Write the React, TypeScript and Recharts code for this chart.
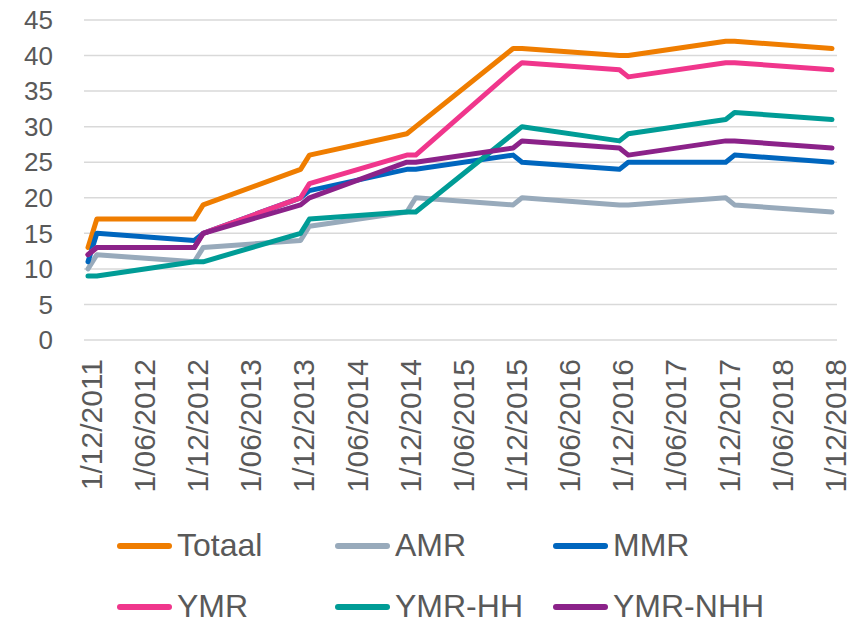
import React from "react";
import { LineChart, Line, XAxis, YAxis, CartesianGrid, Legend } from "recharts";

const dates = ["2011-12", "2012-01", "2012-12", "2013-01", "2013-12", "2014-01", "2014-12", "2015-01", "2015-12", "2016-01", "2016-12", "2017-01", "2017-12", "2018-01", "2018-12"];
const totaal = [13, 17, 17, 19, 24, 26, 29, 30, 41, 41, 40, 40, 42, 42, 41];
const amr = [10, 12, 11, 13, 14, 16, 18, 20, 19, 20, 19, 19, 20, 19, 18];
const mmr = [11, 15, 14, 15, 20, 21, 24, 24, 26, 25, 24, 25, 25, 26, 25];
const ymr = [12, 13, 13, 15, 20, 22, 26, 26, 38, 39, 38, 37, 39, 39, 38];
const ymrHH = [9, 9, 11, 11, 15, 17, 18, 18, 29, 30, 28, 29, 31, 32, 31];
const ymrNHH = [12, 13, 13, 15, 19, 20, 25, 25, 27, 28, 27, 26, 28, 28, 27];
const tickDates = ["2011-12", "2012-06", "2012-12", "2013-06", "2013-12", "2014-06", "2014-12", "2015-06", "2015-12", "2016-06", "2016-12", "2017-06", "2017-12", "2018-06", "2018-12"];
const yTicks = [0, 5, 10, 15, 20, 25, 30, 35, 40, 45];

const series = [
  { key: "totaal", name: "Totaal", color: "#EF7D00", values: totaal },
  { key: "amr", name: "AMR", color: "#98AABB", values: amr },
  { key: "mmr", name: "MMR", color: "#0066BE", values: mmr },
  { key: "ymr", name: "YMR", color: "#F0368C", values: ymr },
  { key: "ymrHH", name: "YMR-HH", color: "#009C96", values: ymrHH },
  { key: "ymrNHH", name: "YMR-NHH", color: "#8B2289", values: ymrNHH },
];

const monthIndex = (d: string) => {
  const [y, m] = d.split("-").map(Number);
  return (y - 2011) * 12 + (m - 12);
};
const fmtMonth = (v: number) => {
  const total = 2011 * 12 + 11 + v;
  const y = Math.floor(total / 12);
  const m = (total % 12) + 1;
  return `1/${String(m).padStart(2, "0")}/${y}`;
};

const rows = dates.map((d, i) => {
  const r: any = { m: monthIndex(d) };
  series.forEach((s) => (r[s.key] = s.values[i]));
  return r;
});

const FONT = "'Liberation Sans', Arial, sans-serif";
const TXT = "#595959";

const XTick = (props: any) => {
  const { x, y, payload } = props;
  return (
    <g transform={`translate(${x + 3},${y})`}>
      <text transform="rotate(-90)" x={-11} y={0} dy="0.36em" textAnchor="end" fill={TXT} fontSize={30} fontFamily={FONT}>
        {fmtMonth(payload.value)}
      </text>
    </g>
  );
};

const LegendContent = () => {
  const colX = [117, 335, 553];
  const rowY = [546, 607];
  return (
    <div style={{ position: "relative", width: 860, height: 90 }}>
      {series.map((s, i) => {
        const c = i % 3;
        const r = Math.floor(i / 3);
        return (
          <div key={s.key} style={{ position: "absolute", left: colX[c], top: rowY[r] - 530, display: "flex", alignItems: "center", height: 0 }}>
            <div style={{ width: 55, height: 6, borderRadius: 3, background: s.color }} />
            <span style={{ marginLeft: 5, fontSize: 32, fontFamily: FONT, color: TXT, lineHeight: "26px", whiteSpace: "nowrap", position: "relative", top: -1 }}>{s.name}</span>
          </div>
        );
      })}
    </div>
  );
};

export default function App() {
  return (
    <div style={{ position: "absolute", left: 0, top: 0, width: 860, height: 622, overflow: "hidden" }}>
      <LineChart width={860} height={622} data={rows} margin={{ top: 20, right: 23, bottom: 0, left: 0 }}>
        <CartesianGrid horizontal vertical={false} stroke="#D9D9D9" strokeWidth={1.5} />
        <XAxis
          dataKey="m"
          type="number"
          domain={[0, 84]}
          ticks={tickDates.map(monthIndex)}
          interval={0}
          padding={{ left: 4, right: 5 }}
          axisLine={false}
          tickLine={false}
          height={192}
          tick={<XTick />}
        />
        <YAxis
          domain={[0, 45]}
          ticks={yTicks}
          interval={0}
          width={84}
          axisLine={false}
          tickLine={false}
          tickSize={0}
          tickMargin={31}
          tick={{ fill: TXT, fontSize: 26, fontFamily: FONT }}
        />
        <Legend
          content={<LegendContent />}
          wrapperStyle={{ position: "absolute", left: 0, top: 530, width: 860, height: 90 }}
        />
        {series.map((s) => (
          <Line
            key={s.key}
            type="linear"
            dataKey={s.key}
            name={s.name}
            stroke={s.color}
            strokeWidth={5}
            dot={false}
            activeDot={false}
            strokeLinejoin="round"
            strokeLinecap="round"
            isAnimationActive={false}
          />
        ))}
      </LineChart>
    </div>
  );
}
